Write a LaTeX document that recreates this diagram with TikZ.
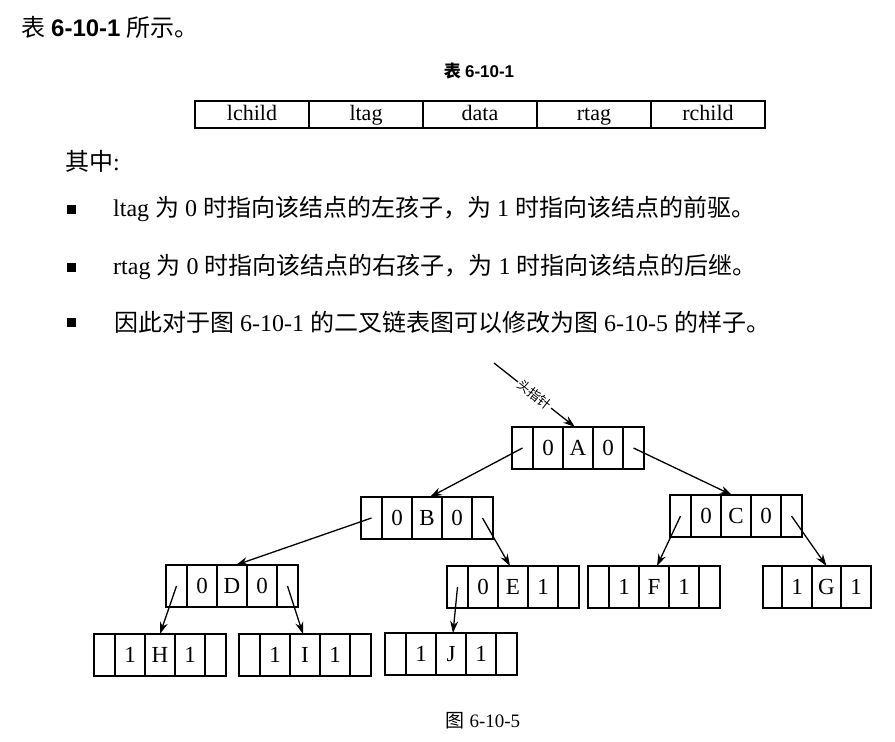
\documentclass[tikz,border=0pt]{standalone}
\usepackage{fontspec}
\setmainfont{Liberation Serif}
\newfontfamily\cjk{Noto Sans CJK SC}
\newfontfamily\hsans{Liberation Sans}
\usetikzlibrary{arrows.meta,positioning,calc}

\tikzset{
  cellO/.style={draw, line width=1.3pt, minimum width=21pt, minimum height=42pt,
    inner sep=0pt, outer sep=0pt, anchor=north west, text height=15pt, text depth=0pt,
    font=\fontsize{23}{24}\selectfont},
  cellI/.style={cellO, minimum width=30pt},
  link/.style={line width=1.3pt, -{Stealth[length=12pt,width=8pt]}},
  fcell/.style={draw, line width=1.3pt, minimum width=114pt, minimum height=27pt,
    inner sep=0pt, outer sep=0pt, anchor=north west, text height=16pt, text depth=5pt,
    font=\fontsize{22}{22}\selectfont},
  body/.style={anchor=west, inner sep=0pt, font=\fontsize{24}{26}\selectfont},
  bullet/.style={fill=black, minimum width=9pt, minimum height=9pt, inner sep=0pt},
}

% name, x, y (top-left), ltag, data, rtag
\newcommand\recnode[6]{%
  \node[cellO] (#1l) at (#2,#3) {};
  \node[cellI] (#1t) at (#1l.north east) {#4};
  \node[cellI] (#1) at (#1t.north east) {#5};
  \node[cellI] (#1u) at (#1.north east) {#6};
  \node[cellO] (#1r) at (#1u.north east) {};
}

\begin{document}
\begin{tikzpicture}[x=1pt,y=-1pt]
\useasboundingbox[fill=white] (0,0) rectangle (895,742);

% header text
\node[body, font=\fontsize{24}{24}\selectfont] (title) at (21,27)
  {{\cjk 表} {\hsans\bfseries 6-10-1} {\cjk 所示。}};
\node[inner sep=0pt, font=\fontsize{17}{17}\selectfont] (cap1) at (479,71)
  {{\cjk\bfseries 表} {\hsans\bfseries 6-10-1}};

% format table
\node[fcell] (f1) at (195,101) {lchild};
\node[fcell] (f2) at (f1.north east) {ltag};
\node[fcell] (f3) at (f2.north east) {data};
\node[fcell] (f4) at (f3.north east) {rtag};
\node[fcell] (f5) at (f4.north east) {rchild};

\node[body] (qz) at (65,161) {{\cjk 其中}:};

\node[bullet] (b1) at (71,209) {};
\node[bullet] (b2) at (71,267) {};
\node[bullet] (b3) at (71,322) {};
\node[body] (l1) at (113,209)
  {ltag {\cjk 为} 0 {\cjk 时指向该结点的左孩子，为} 1 {\cjk 时指向该结点的前驱。}};
\node[body] (l2) at (113,267)
  {rtag {\cjk 为} 0 {\cjk 时指向该结点的右孩子，为} 1 {\cjk 时指向该结点的后继。}};
\node[body] (l3) at (114,322)
  {{\cjk 因此对于图} 6-10-1 {\cjk 的二叉链表图可以修改为图} 6-10-5 {\cjk 的样子。}};

% threaded tree
\recnode{A}{512}{427}{0}{A}{0}
\recnode{B}{361}{497}{0}{B}{0}
\recnode{C}{670}{495}{0}{C}{0}
\recnode{D}{166}{565}{0}{D}{0}
\recnode{E}{447}{566}{0}{E}{1}
\recnode{F}{588}{566}{1}{F}{1}
% G is cut off at the right edge: four cells shown
\node[cellO, minimum width=19pt] (Gl) at (763,566) {};
\node[cellI] (Gt) at (Gl.north east) {1};
\node[cellI, minimum width=29pt] (G) at (Gt.north east) {G};
\node[cellI] (Gu) at (G.north east) {1};
\recnode{H}{94}{634}{1}{H}{1}
\recnode{I}{239}{634}{1}{I}{1}
\recnode{J}{385}{633}{1}{J}{1}

\coordinate (hp) at (494,363);
\draw[link] (hp) -- ($(A.north)+(-3,0)$)
  node[pos=0.5, sloped, fill=white, inner sep=1.5pt, font=\cjk\fontsize{13}{13}\selectfont] (hplabel) {头指针};

\draw[link] (Al.center) -- ($(B.north)+(3,0)$);
\draw[link] (Ar.center) -- ($(C.north)+(-4,0)$);
\draw[link] (Bl.center) -- ($(D.north)+(4,0)$);
\draw[link] (Br.center) -- ($(E.north)+(-3,0)$);
\draw[link] (Cl.center) -- ($(F.north)+(3,0)$);
\draw[link] (Cr.center) -- (G.north);
\draw[link] (Dl.center) -- (H.north);
\draw[link] (Dr.center) -- ($(I.north)+(-2,0)$);
\draw[link] (El.center) -- ($(J.north)+(2,0)$);

\node[inner sep=0pt, font=\fontsize{19}{20}\selectfont] (cap2) at (483,721)
  {{\cjk 图} 6-10-5};
\end{tikzpicture}
\end{document}
